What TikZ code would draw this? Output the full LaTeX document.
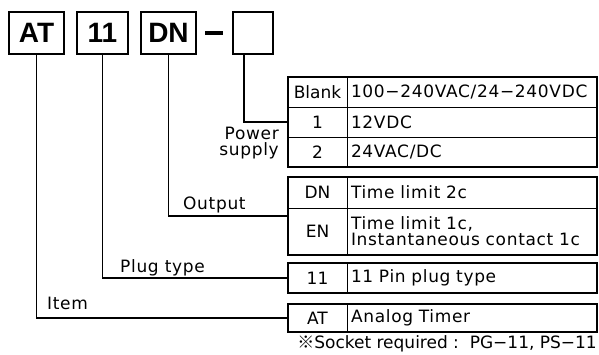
\documentclass[tikz,border=0pt]{standalone}
\usepackage{fontspec}
\setmainfont{DejaVu Sans}[LetterSpace=4]
\newfontfamily\keyfont{DejaVu Sans}
\newfontfamily\hdfont{Liberation Sans}
\newfontfamily\krfont{Noto Sans CJK KR}
\usetikzlibrary{positioning, calc}

\tikzset{
  headbox/.style={draw, line width=1.6pt, minimum height=42pt, inner sep=0pt,
    font=\hdfont\bfseries\fontsize{28}{28}\selectfont},
  keycell/.style={draw, line width=0.8pt, outer sep=0pt, minimum width=59pt,
    minimum height=30pt, inner sep=0pt, font=\keyfont\fontsize{17}{16}\selectfont},
  valcell/.style={draw, line width=0.8pt, outer sep=0pt, minimum height=30pt,
    text width=242pt, inner xsep=4pt, inner ysep=0pt, align=left,
    font=\fontsize{17}{16}\selectfont},
  frame/.style={line width=1.8pt},
  link/.style={line width=1.1pt},
  lbl/.style={inner sep=0pt, font=\fontsize{17}{16}\selectfont}
}

\begin{document}
\begin{tikzpicture}[x=1pt, y=-1pt]
	\useasboundingbox (0,0) rectangle (599,354);

	% code boxes
	\node [headbox, minimum width=55pt] (hAT) at (36.5,33) {AT};
	\node [headbox, minimum width=51pt] (h11) at (102.5,33) {11};
	\node [headbox, minimum width=55pt] (hDN) at (168.5,33) {DN};
	\node [inner sep=0pt] (dash) at (214,33) {\rule{18pt}{3.5pt}};
	\node [headbox, minimum width=40pt] (hPow) at (253,33) {};

	% power supply
	\node [keycell, anchor=north west] (kBlank) at (288,77) {Blank};
	\node [valcell, right=0pt of kBlank] (vBlank) {100−240VAC/24−240VDC};
	\node [keycell, below=0pt of kBlank] (k1) {1};
	\node [valcell, right=0pt of k1] (v1) {12VDC};
	\node [keycell, below=0pt of k1] (k2) {2};
	\node [valcell, right=0pt of k2] (v2) {24VAC/DC};
	\draw [frame] (kBlank.north west) rectangle (v2.south east);

	% output
	\node [keycell, anchor=north west, minimum height=31pt] (kDN) at (288,177) {DN};
	\node [valcell, right=0pt of kDN, minimum height=31pt] (vDN) {Time limit 2c};
	\node [keycell, below=0pt of kDN, minimum height=47pt] (kEN) {EN};
	\node [valcell, right=0pt of kEN, minimum height=47pt] (vEN) {Time limit 1c,\\Instantaneous contact 1c};
	\draw [frame] (kDN.north west) rectangle (vEN.south east);

	% plug type
	\node [keycell, anchor=north west] (k11) at (288,263) {11};
	\node [valcell, right=0pt of k11] (v11) {11 Pin plug type};
	\draw [frame] (k11.north west) rectangle (v11.south east);

	% item
	\node [keycell, anchor=north west, minimum height=28pt] (kAT) at (288,304) {AT};
	\node [valcell, right=0pt of kAT, minimum height=28pt] (vAT) {Analog Timer};
	\draw [frame] (kAT.north west) rectangle (vAT.south east);

	% labels
	\node [lbl, align=right, anchor=east] (lPow) at (279,143) {Power\\supply};
	\node [lbl, anchor=west] (lOut) at (183,205) {Output};
	\node [lbl, anchor=west] (lPlug) at (120,268) {Plug type};
	\node [lbl, anchor=west] (lItem) at (47,303) {Item};

	% leaders
	\draw [link] ([xshift=-9pt]hPow.south) |- (k1.west);
	\draw [link] (hDN.south) |- ($(kDN.north west)!0.5!(kEN.south west)$);
	\draw [link] (h11.south) |- (k11.west);
	\draw [link] (hAT.south) |- (kAT.west);

	\node [lbl, anchor=east, font=\keyfont\fontsize{17}{16}\selectfont] (note) at (597,344) {{\krfont ※}Socket required :\ \ PG−11, PS−11};
\end{tikzpicture}
\end{document}
